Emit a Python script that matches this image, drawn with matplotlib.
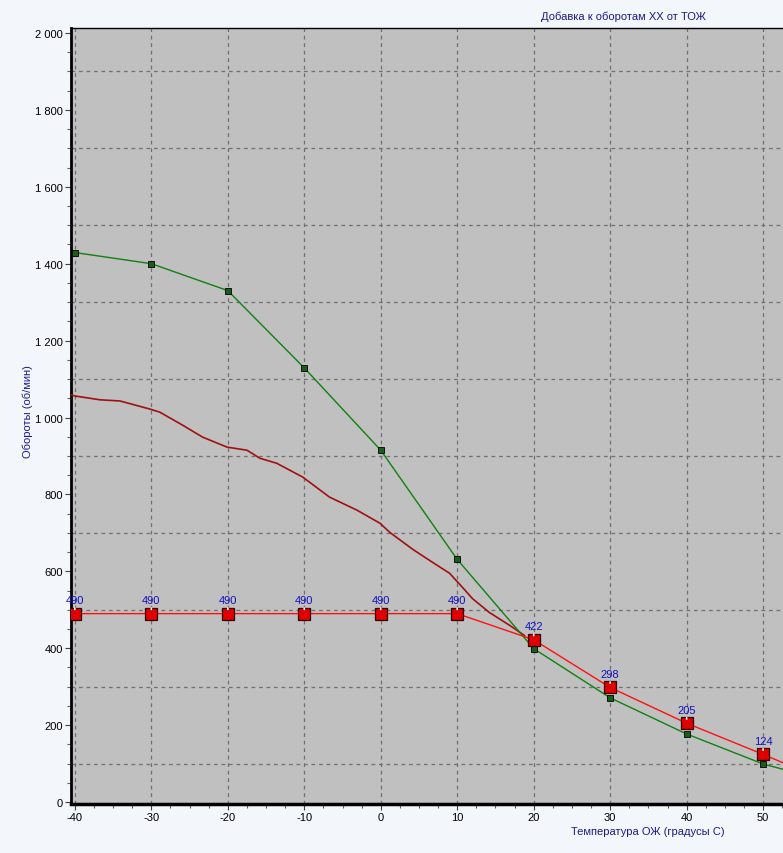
import matplotlib
matplotlib.use("Agg")
import matplotlib.pyplot as plt
from matplotlib.ticker import MultipleLocator, FuncFormatter
import numpy as np

# табличные точки (x = температура ОЖ, °C)
temp = [-40, -30, -20, -10, 0, 10, 20, 30, 40, 50, 60]
dobavka = [490, 490, 490, 490, 490, 490, 422, 298, 205, 124, 40]
zelenaya = [1429, 1400, 1330, 1129, 915, 631, 399, 271, 177, 99, 46]

# измеренная кривая
izm_t = [-40.5, -40, -36.7, -34.1, -30.2, -28.9, -25.9, -23.3, -20.1, -17.5,
         -15.8, -13.6, -10.2, -6.7, -3.1, -0.1, 1.2, 4.2, 6.8, 9.0,
         10.7, 12.0, 14.2, 16.9, 18.8]
izm_rpm = [1059, 1056, 1046, 1043, 1022, 1014, 980, 949, 923, 915,
           894, 881, 845, 793, 759, 725, 701, 657, 623, 595,
           558, 529, 493, 459, 433]

bg = "#f3f6fa"
blue = "#1a1a8c"

plt.rcParams["font.family"] = ["Liberation Sans", "DejaVu Sans"]
plt.rcParams["axes.unicode_minus"] = False
fig = plt.figure(figsize=(7.83, 8.54), dpi=100, facecolor=bg)
ax = fig.add_axes([0.0907, 0.0574, 0.9093, 0.9087])
ax.set_facecolor("#c0c0c0")

ax.set_xlim(-40.5, 52.6)
ax.set_ylim(-5, 2013)

# сетка
for x in range(-40, 60, 10):
    ax.axvline(x, color="#707070", lw=0.9, ls=(0, (3, 3)), zorder=1)
for y in np.arange(100, 2000, 200):
    ax.axhline(y, color="#707070", lw=0.9, ls=(0, (3, 3)), zorder=1)

ax.plot(izm_t, izm_rpm, color="#a01010", lw=1.2, zorder=3)
ax.plot(temp, zelenaya, color="#108010", lw=1.0, marker="s", ms=4,
        mfc="#1a5c1a", mec="black", mew=0.6, zorder=4)
ax.plot(temp, dobavka, color="#ff1010", lw=1.0, marker="s", ms=8.5,
        mfc="#e00000", mec="#300000", mew=0.9, zorder=5)

for t, v in zip(temp, dobavka):
    if t > 50:
        continue
    ax.annotate(str(v), (t, v), xytext=(0, 6), textcoords="offset points",
                ha="center", va="bottom", fontsize=8, color="#1010c0",
                arrowprops=dict(arrowstyle="-", color="white", lw=1.2,
                                shrinkA=0, shrinkB=3), zorder=6)

ax.xaxis.set_major_locator(MultipleLocator(10))
ax.xaxis.set_minor_locator(MultipleLocator(2.5))
ax.yaxis.set_major_locator(MultipleLocator(200))
ax.yaxis.set_minor_locator(MultipleLocator(50))
ax.yaxis.set_major_formatter(FuncFormatter(lambda v, p: f"{v:,.0f}".replace(",", " ")))
ax.tick_params(which="major", length=4, width=0.8, color="#404040", labelsize=8, pad=2)
ax.tick_params(which="minor", length=3, width=0.8, color="#606060")

ax.spines["right"].set_visible(False)
ax.spines["left"].set_linewidth(2)
ax.spines["bottom"].set_linewidth(2.5)
ax.spines["top"].set_linewidth(1)

fig.text(0.796, 0.980, "Добавка к оборотам ХХ от ТОЖ", ha="center", va="center",
         fontsize=8, color=blue)
fig.text(0.036, 0.518, "Обороты (об/мин)", rotation=90, ha="center", va="center",
         fontsize=8, color=blue)
fig.text(0.827, 0.026, "Температура ОЖ (градусы С)", ha="center", va="center",
         fontsize=8, color=blue)

fig.savefig("out.png", dpi=100, facecolor=bg)
